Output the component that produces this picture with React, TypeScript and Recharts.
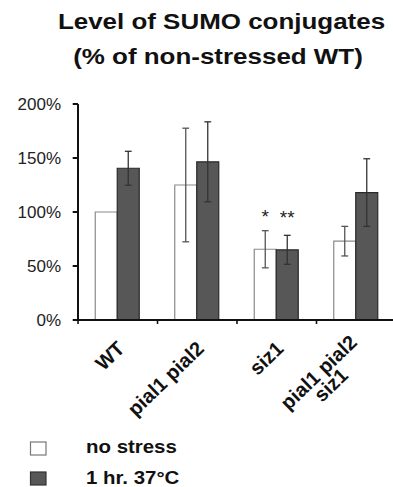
import React from "react";
import { BarChart, Bar, XAxis, YAxis, ErrorBar, LabelList } from "recharts";

// ---- data ----
const categories = ["WT", "pial1 pial2", "siz1", "pial1 pial2\nsiz1"];
const noStress = [100, 125, 65.5, 73];
const noStressErr = [null, 52.6, 17.2, 13.7];
const heat = [140.5, 146.5, 65, 118];
const heatErr = [15.7, 37, 13.4, 31.3];
const noStressSig = ["", "", "*", ""];
const heatSig = ["", "", "**", ""];
const yTicks = [0, 50, 100, 150, 200];
const titleLines = ["Level of SUMO conjugates", "(% of non-stressed WT)"];
const seriesNames = ["no stress", "1 hr. 37°C"];

const data = categories.map((c, i) => ({
  name: c,
  a: noStress[i],
  aErr: noStressErr[i],
  aSig: noStressSig[i],
  b: heat[i],
  bErr: heatErr[i],
  bSig: heatSig[i],
}));

// ---- layout ----
const CHART_W = 410;
const CHART_H = 487;
const M = { top: 104, right: 14, left: 0, bottom: 0 };
const Y_W = 78;
const PLOT_H = 216;
const PLOT_W = CHART_W - M.left - M.right - Y_W;
const BAND = PLOT_W / categories.length;
const FONT = "'Liberation Sans', Arial, Helvetica, sans-serif";
const XFS = 20;

let ctx: CanvasRenderingContext2D | null = null;
function measure(t: string, font: string) {
  if (typeof document !== "undefined" && !ctx) {
    ctx = document.createElement("canvas").getContext("2d");
  }
  if (!ctx) return t.length * 10;
  ctx.font = font;
  return ctx.measureText(t).width;
}

function XTick(props: any) {
  const { x, y, payload } = props;
  const lines = String(payload.value).split("\n");
  const font = `bold ${XFS}px ${FONT}`;
  const maxW = Math.max(...lines.map((l) => measure(l, font)));
  const lh = 17.5;
  return (
    <g>
      <line x1={x - BAND / 2} x2={x - BAND / 2} y1={y} y2={y + 4} stroke="#111" strokeWidth={1.6} />
      <g transform={`translate(${x + 8},${y + 30}) rotate(-44)`}>
        <text fontFamily={FONT} fontWeight="bold" fontSize={XFS} fill="#111" textAnchor="middle">
          {lines.map((l, i) => (
            <tspan key={i} x={-maxW / 2} y={(i - (lines.length - 1) / 2) * lh}>
              {l}
            </tspan>
          ))}
        </text>
      </g>
    </g>
  );
}

export default function App() {
  return (
    <div style={{ position: "absolute", left: 0, top: 0, width: 393, height: 487, overflow: "hidden", background: "#fff" }}>
      <BarChart width={CHART_W} height={CHART_H} data={data} margin={M} barCategoryGap="21.7%" barGap={0}>
        <XAxis
          dataKey="name"
          height={CHART_H - M.top - M.bottom - PLOT_H}
          interval={0}
          tickLine={false}
          tickSize={0}
          tickMargin={0}
          axisLine={{ stroke: "#111", strokeWidth: 2 }}
          tick={<XTick />}
        />
        <YAxis
          width={Y_W}
          domain={[0, 200]}
          ticks={yTicks}
          interval={0}
          tickFormatter={(v: number) => `${v}%`}
          axisLine={{ stroke: "#111", strokeWidth: 2 }}
          tickLine={{ stroke: "#111", strokeWidth: 2 }}
          tickSize={5.3}
          tickMargin={11.7}
          tick={{ fontFamily: FONT, fontSize: 17, fill: "#222" }}
        />
        <Bar dataKey="a" name={seriesNames[0]} fill="#ffffff" stroke="#8a8a8a" strokeWidth={1.2} isAnimationActive={false}>
          <ErrorBar dataKey="aErr" width={3.4} stroke="#555" strokeWidth={1.3} />
          <LabelList dataKey="aSig" position="top" offset={26} style={{ fontFamily: FONT, fontSize: 19, fill: "#222" }} />
        </Bar>
        <Bar dataKey="b" name={seriesNames[1]} fill="#575757" stroke="#2a2a2a" strokeWidth={1.2} isAnimationActive={false}>
          <ErrorBar dataKey="bErr" width={3.4} stroke="#333" strokeWidth={1.3} />
          <LabelList dataKey="bSig" position="top" offset={26} style={{ fontFamily: FONT, fontSize: 19, fill: "#222" }} />
        </Bar>
      </BarChart>
      <svg width={393} height={487} style={{ position: "absolute", left: 0, top: 0, pointerEvents: "none" }}>
        <text transform="translate(221.5,28.5) scale(1.18,1)" textAnchor="middle" fontFamily={FONT} fontWeight="bold" fontSize={22} fill="#111">
          {titleLines[0]}
        </text>
        <text transform="translate(218,63.5) scale(1.18,1)" textAnchor="middle" fontFamily={FONT} fontWeight="bold" fontSize={22} fill="#111">
          {titleLines[1]}
        </text>
        <rect x={30.5} y={442} width={15.5} height={13} fill="#fff" stroke="#777" strokeWidth={1.2} />
        <text transform="translate(86,453) scale(1.135,1)" fontFamily={FONT} fontWeight="bold" fontSize={18} fill="#111">
          {seriesNames[0]}
        </text>
        <rect x={30.5} y={472} width={15.5} height={13} fill="#575757" stroke="#333" strokeWidth={1.2} />
        <text transform="translate(86,484) scale(1.135,1)" fontFamily={FONT} fontWeight="bold" fontSize={18} fill="#111">
          {seriesNames[1]}
        </text>
      </svg>
    </div>
  );
}
